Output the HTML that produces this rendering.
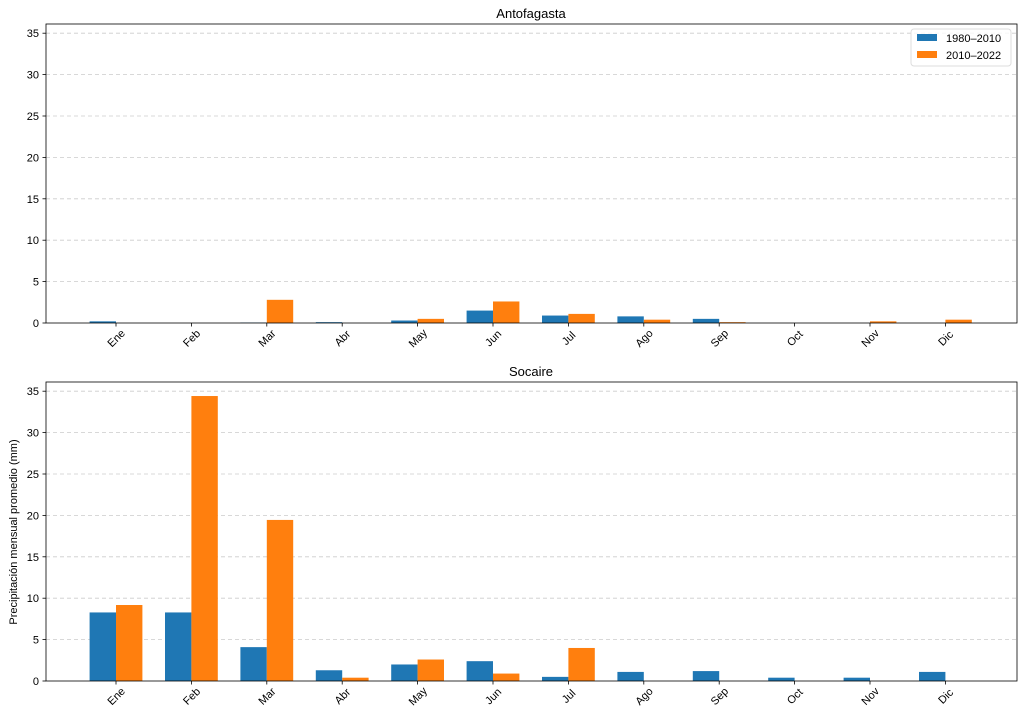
<!DOCTYPE html>
<html><head><meta charset="utf-8"><style>body{margin:0;background:#fff}svg{display:block;font-family:"Liberation Sans","DejaVu Sans",sans-serif}</style></head><body>
<svg width="1024" height="720" viewBox="0 0 1024 720">
<defs>
<g id="ygrid">
<g stroke="#ccc" stroke-dasharray="4,3" stroke-width="0.8">
<line x1="46" x2="1017" y1="-41.4" y2="-41.4"/><line x1="46" x2="1017" y1="-82.8" y2="-82.8"/><line x1="46" x2="1017" y1="-124.2" y2="-124.2"/><line x1="46" x2="1017" y1="-165.6" y2="-165.6"/><line x1="46" x2="1017" y1="-207" y2="-207"/><line x1="46" x2="1017" y1="-248.4" y2="-248.4"/><line x1="46" x2="1017" y1="-289.8" y2="-289.8"/>
</g>
<g stroke="#000" stroke-width="0.8">
<line x1="42.5" x2="46" y1="0" y2="0"/><line x1="42.5" x2="46" y1="-41.4" y2="-41.4"/><line x1="42.5" x2="46" y1="-82.8" y2="-82.8"/><line x1="42.5" x2="46" y1="-124.2" y2="-124.2"/><line x1="42.5" x2="46" y1="-165.6" y2="-165.6"/><line x1="42.5" x2="46" y1="-207" y2="-207"/><line x1="42.5" x2="46" y1="-248.4" y2="-248.4"/><line x1="42.5" x2="46" y1="-289.8" y2="-289.8"/>
</g>
<g font-size="11" text-anchor="end" fill="#000">
<text x="39" y="4">0</text><text x="39" y="-37.4">5</text><text x="39" y="-78.8">10</text><text x="39" y="-120.2">15</text><text x="39" y="-161.6">20</text><text x="39" y="-203">25</text><text x="39" y="-244.4">30</text><text x="39" y="-285.8">35</text>
</g>
<g stroke="#000" stroke-width="0.8">
<line x1="116" x2="116" y1="0" y2="3.5"/><line x1="191.4" x2="191.4" y1="0" y2="3.5"/><line x1="266.8" x2="266.8" y1="0" y2="3.5"/><line x1="342.2" x2="342.2" y1="0" y2="3.5"/><line x1="417.6" x2="417.6" y1="0" y2="3.5"/><line x1="493" x2="493" y1="0" y2="3.5"/><line x1="568.4" x2="568.4" y1="0" y2="3.5"/><line x1="643.8" x2="643.8" y1="0" y2="3.5"/><line x1="719.2" x2="719.2" y1="0" y2="3.5"/><line x1="794.6" x2="794.6" y1="0" y2="3.5"/><line x1="870" x2="870" y1="0" y2="3.5"/><line x1="945.4" x2="945.4" y1="0" y2="3.5"/>
</g>
<g font-size="11" text-anchor="middle" fill="#000">
<text dy="4" transform="translate(116,15) rotate(-45)">Ene</text><text dy="4" transform="translate(191.4,15) rotate(-45)">Feb</text><text dy="4" transform="translate(266.8,15) rotate(-45)">Mar</text><text dy="4" transform="translate(342.2,15) rotate(-45)">Abr</text><text dy="4" transform="translate(417.6,15) rotate(-45)">May</text><text dy="4" transform="translate(493,15) rotate(-45)">Jun</text><text dy="4" transform="translate(568.4,15) rotate(-45)">Jul</text><text dy="4" transform="translate(643.8,15) rotate(-45)">Ago</text><text dy="4" transform="translate(719.2,15) rotate(-45)">Sep</text><text dy="4" transform="translate(794.6,15) rotate(-45)">Oct</text><text dy="4" transform="translate(870,15) rotate(-45)">Nov</text><text dy="4" transform="translate(945.4,15) rotate(-45)">Dic</text>
</g>
</g>
</defs>
<rect width="1024" height="720" fill="#fff"/>
<use href="#ygrid" transform="translate(0,323)"/>
<g transform="translate(0,323) scale(1,-8.28)">
<g fill="#1f77b4">
<rect x="89.6" y="0" width="26.4" height="0.2"/><rect x="240.4" y="0" width="26.4" height="0.05"/><rect x="315.8" y="0" width="26.4" height="0.1"/><rect x="391.2" y="0" width="26.4" height="0.3"/><rect x="466.6" y="0" width="26.4" height="1.5"/><rect x="542" y="0" width="26.4" height="0.9"/><rect x="617.4" y="0" width="26.4" height="0.8"/><rect x="692.8" y="0" width="26.4" height="0.5"/>
</g>
<g fill="#ff7f0e">
<rect x="266.8" y="0" width="26.4" height="2.8"/><rect x="417.6" y="0" width="26.4" height="0.5"/><rect x="493" y="0" width="26.4" height="2.6"/><rect x="568.4" y="0" width="26.4" height="1.1"/><rect x="643.8" y="0" width="26.4" height="0.4"/><rect x="719.2" y="0" width="26.4" height="0.1"/><rect x="870" y="0" width="26.4" height="0.2"/><rect x="945.4" y="0" width="26.4" height="0.4"/>
</g>
</g>
<rect x="46" y="24" width="971" height="299" fill="none" stroke="#000" stroke-width="0.8"/>
<text x="531" y="18" font-size="13" text-anchor="middle">Antofagasta</text>
<g>
<rect x="911" y="29" width="100" height="37" rx="3" fill="#fff" fill-opacity="0.8" stroke="#ddd"/>
<rect x="917" y="34" width="20" height="7" fill="#1f77b4"/><text x="946" y="42" font-size="11">1980–2010</text>
<rect x="917" y="51" width="20" height="7" fill="#ff7f0e"/><text x="946" y="59" font-size="11">2010–2022</text>
</g>
<use href="#ygrid" transform="translate(0,681)"/>
<g transform="translate(0,681) scale(1,-8.26)">
<g fill="#1f77b4">
<rect x="89.6" y="0" width="26.4" height="8.3"/><rect x="165" y="0" width="26.4" height="8.3"/><rect x="240.4" y="0" width="26.4" height="4.1"/><rect x="315.8" y="0" width="26.4" height="1.3"/><rect x="391.2" y="0" width="26.4" height="2.0"/><rect x="466.6" y="0" width="26.4" height="2.4"/><rect x="542" y="0" width="26.4" height="0.5"/><rect x="617.4" y="0" width="26.4" height="1.1"/><rect x="692.8" y="0" width="26.4" height="1.2"/><rect x="768.2" y="0" width="26.4" height="0.4"/><rect x="843.6" y="0" width="26.4" height="0.4"/><rect x="919" y="0" width="26.4" height="1.1"/>
</g>
<g fill="#ff7f0e">
<rect x="116" y="0" width="26.4" height="9.2"/><rect x="191.4" y="0" width="26.4" height="34.5"/><rect x="266.8" y="0" width="26.4" height="19.5"/><rect x="342.2" y="0" width="26.4" height="0.4"/><rect x="417.6" y="0" width="26.4" height="2.6"/><rect x="493" y="0" width="26.4" height="0.9"/><rect x="568.4" y="0" width="26.4" height="4.0"/>
</g>
</g>
<rect x="46" y="382" width="971" height="299" fill="none" stroke="#000" stroke-width="0.8"/>
<text x="531" y="376" font-size="13" text-anchor="middle">Socaire</text>
<text transform="translate(17,532) rotate(-90)" font-size="11" text-anchor="middle">Precipitación mensual promedio (mm)</text>
</svg>
</body></html>
